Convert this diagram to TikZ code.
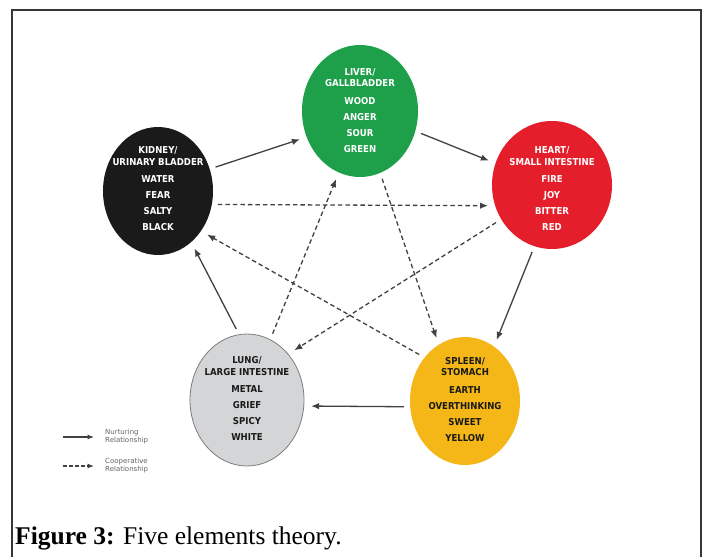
\documentclass[tikz,border=0pt]{standalone}
\usepackage{fontspec}
\setmainfont{Liberation Serif}
\newfontfamily\labfont{DejaVu Sans Condensed}
\newfontfamily\legfont{DejaVu Sans}
\usetikzlibrary{shapes.geometric,arrows.meta}
\definecolor{elgreen}{RGB}{30,160,75}
\definecolor{elred}{RGB}{228,30,42}
\definecolor{elblack}{RGB}{26,26,26}
\definecolor{elgray}{RGB}{212,213,214}
\definecolor{elgrayline}{RGB}{125,125,125}
\definecolor{elyellow}{RGB}{245,183,24}
\definecolor{arrowgray}{RGB}{65,65,65}
\definecolor{framecol}{RGB}{55,55,55}
\definecolor{legcol}{RGB}{100,100,100}
\begin{document}
\begin{tikzpicture}[x=1pt,y=-1pt,
  elem/.style={ellipse,inner sep=0pt},
  eltext/.style={align=center,inner sep=0pt,
    font=\labfont\bfseries\fontsize{9.5}{11.5}\selectfont},
  nurt/.style={draw=arrowgray,line width=1.3pt,
    -{Latex[length=8pt,width=6.5pt]},shorten <=6pt,shorten >=7pt},
  coop/.style={nurt,dash pattern=on 4.5pt off 3pt},
  legarrow/.style={draw=arrowgray,line width=1.1pt,-{Latex[length=6.5pt,width=5pt]}},
  legtext/.style={anchor=west,align=left,inner sep=0pt,text=legcol,
    font=\legfont\fontsize{7}{8}\selectfont}
]
\useasboundingbox (0,0) rectangle (706,557);
\fill[white] (0,0) rectangle (706,557);

% frame
\draw[framecol,line width=1.3pt] (12,557) -- (12,10) -- (701,10) -- (701,557);

% element ellipses
\node[elem,fill=elgreen,minimum width=116pt,minimum height=132pt] (liv) at (360,111) {};
\node[elem,fill=elblack,minimum width=110pt,minimum height=128pt] (kid) at (158,191) {};
\node[elem,fill=elred,minimum width=120pt,minimum height=128pt] (hea) at (552,185) {};
\node[elem,fill=elgray,draw=elgrayline,line width=0.8pt,minimum width=114pt,minimum height=132pt] (lun) at (247,400) {};
\node[elem,fill=elyellow,minimum width=110pt,minimum height=128pt] (spl) at (465,401) {};

% texts
\node[eltext,text=white] (livT) at (360,110.5)
  {LIVER/\\GALLBLADDER\\[6pt]WOOD\\[4.5pt]ANGER\\[4.5pt]SOUR\\[4.5pt]GREEN};
\node[eltext,text=white] (kidT) at (158,189)
  {KIDNEY/\\URINARY BLADDER\\[6pt]WATER\\[4.5pt]FEAR\\[4.5pt]SALTY\\[4.5pt]BLACK};
\node[eltext,text=white] (heaT) at (552,189)
  {HEART/\\SMALL INTESTINE\\[6pt]FIRE\\[4.5pt]JOY\\[4.5pt]BITTER\\[4.5pt]RED};
\node[eltext,text=elblack] (lunT) at (247,398.5)
  {LUNG/\\LARGE INTESTINE\\[6pt]METAL\\[4.5pt]GRIEF\\[4.5pt]SPICY\\[4.5pt]WHITE};
\node[eltext,text=elblack] (splT) at (465,399.5)
  {SPLEEN/\\STOMACH\\[6pt]EARTH\\[4.5pt]OVERTHINKING\\[4.5pt]SWEET\\[4.5pt]YELLOW};

% nurturing cycle
\draw[nurt] (kid.23) -- (liv.206);
\draw[nurt] (liv.-20) -- (hea.159);
\draw[nurt] (hea.-106) -- (spl.62);
\draw[nurt] (spl.186) -- (lun.-6);
\draw[nurt] (lun.97) -- (kid.-57);

% cooperative cycle
\draw[coop] (kid.-14) -- (hea.200);
\draw[coop] (liv.-72) -- (spl.115);
\draw[coop] (hea.214) -- (lun.48);
\draw[coop] (spl.133) -- (kid.-43);
\draw[coop] (lun.69) -- (liv.-109);

% legend
\coordinate (la1) at (63,437);
\coordinate (lb1) at (94,437);
\coordinate (la2) at (63,466);
\coordinate (lb2) at (94,466);
\draw[legarrow] (la1) -- (lb1);
\draw[legarrow,dash pattern=on 3.5pt off 2.5pt] (la2) -- (lb2);
\node[legtext] (lt1) at (105,437) {Nurturing\\Relationship};
\node[legtext] (lt2) at (105,466) {Cooperative\\Relationship};

% caption
\node[anchor=base west,inner sep=0pt,font=\fontsize{25.5}{28}\selectfont] (cap) at (15,544)
  {\textbf{Figure 3:} Five elements theory.};
\end{tikzpicture}
\end{document}
